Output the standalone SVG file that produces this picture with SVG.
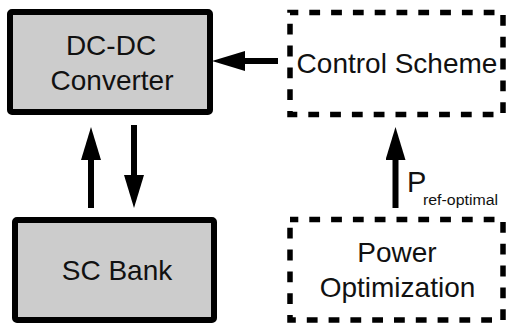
<svg xmlns="http://www.w3.org/2000/svg" width="507" height="324" viewBox="0 0 507 324">
  <defs>
    <style>
      .solid { fill: #cccccc; stroke: #000; stroke-width: 6; }
      .dashed { fill: none; stroke: #000; stroke-width: 5.5; stroke-dasharray: 10.8 11; stroke-dashoffset: 2.5; }
      .lbl { font-family: "Liberation Sans", Arial, sans-serif; font-size: 28px; fill: #111; text-anchor: middle; }
      .conn { stroke: #000; stroke-width: 6; fill: none; marker-end: url(#head); }
    </style>
    <marker id="head" markerUnits="userSpaceOnUse" markerWidth="33" markerHeight="20" refX="0" refY="10" orient="auto" viewBox="0 0 33 20">
      <path d="M0,0 L33,10 L0,20 Z" fill="#000"/>
    </marker>
  </defs>
  <rect width="507" height="324" fill="#fff"/>

  <g id="dcdc">
    <rect class="solid" x="10" y="12" width="200" height="100" rx="2"/>
    <text class="lbl" x="111" y="55">DC-DC</text>
    <text class="lbl" x="112" y="90">Converter</text>
  </g>

  <g id="control">
    <rect class="dashed" x="290" y="12.5" width="213" height="102"/>
    <text class="lbl" x="397" y="73">Control Scheme</text>
  </g>

  <g id="scbank">
    <rect class="solid" x="15" y="220" width="199" height="100" rx="2"/>
    <text class="lbl" x="117" y="280">SC Bank</text>
  </g>

  <g id="power">
    <rect class="dashed" x="290" y="219.5" width="213" height="100.5"/>
    <text class="lbl" x="397" y="262">Power</text>
    <text class="lbl" x="397.5" y="297">Optimization</text>
  </g>

  <g id="connectors">
    <line class="conn" x1="278" y1="61" x2="245" y2="61"/>
    <line class="conn" x1="91" y1="208" x2="91" y2="160"/>
    <line class="conn" x1="134" y1="125" x2="134" y2="175"/>
    <line class="conn" x1="395.5" y1="208" x2="395.5" y2="160"/>
    <text x="407" y="192" font-family="Liberation Sans, Arial, sans-serif" font-size="29" fill="#111">P</text>
    <text x="423" y="205" font-family="Liberation Sans, Arial, sans-serif" font-size="14" fill="#111" textLength="75" lengthAdjust="spacingAndGlyphs">ref-optimal</text>
  </g>
</svg>
